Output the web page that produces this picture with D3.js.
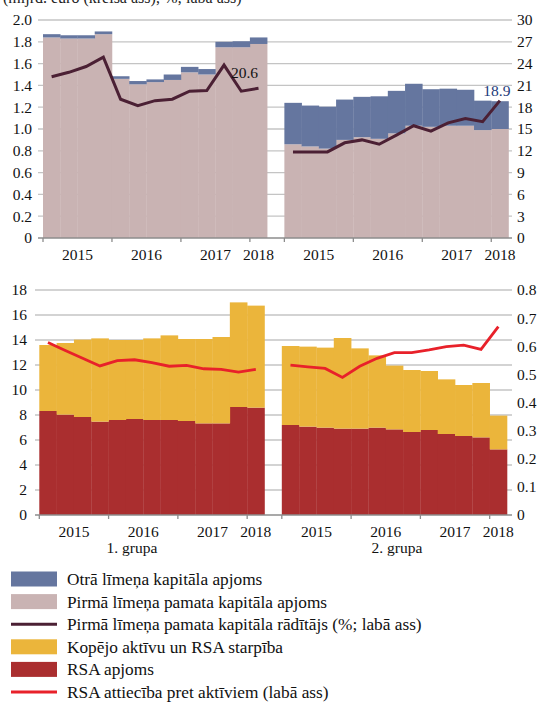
<!DOCTYPE html>
<html><head><meta charset="utf-8">
<script src="https://cdn.jsdelivr.net/npm/d3@7"></script>
<style>
html,body{margin:0;padding:0;background:#fff;}
svg{display:block;font-family:"Liberation Serif","Times New Roman",serif;}
</style></head>
<body><svg id="c" width="539" height="702"></svg>
<script>
// ---------- DATA ----------
const quarters = ["2015 Q1","2015 Q2","2015 Q3","2015 Q4","2016 Q1","2016 Q2","2016 Q3","2016 Q4","2017 Q1","2017 Q2","2017 Q3","2017 Q4","2018 Q1"];
const groups = ["1. grupa","2. grupa"];
const yearLabels = ["2015","2016","2017","2018"];
const topLeftTicks = [0,0.2,0.4,0.6,0.8,1.0,1.2,1.4,1.6,1.8,2.0];
const topRightTicks = [0,3,6,9,12,15,18,21,24,27,30];
const botLeftTicks = [0,2,4,6,8,10,12,14,16,18];
const botRightTicks = [0,0.1,0.2,0.3,0.4,0.5,0.6,0.7,0.8];

// Top: capital (bn euro) and CET1 ratio (%)
const tier1G1 = [1.84,1.83,1.83,1.87,1.46,1.41,1.43,1.45,1.52,1.50,1.75,1.75,1.78];
const tier2G1 = [0.03,0.03,0.03,0.025,0.024,0.03,0.025,0.05,0.05,0.05,0.05,0.055,0.06];
const cet1G1  = [22.2,22.8,23.6,24.9,19.1,18.2,18.9,19.1,20.2,20.3,23.8,20.2,20.6];
const tier1G2 = [0.86,0.84,0.82,0.90,0.925,0.91,0.96,1.03,1.02,1.03,1.03,0.99,1.0];
const tier2G2 = [0.38,0.375,0.385,0.37,0.37,0.39,0.39,0.385,0.345,0.34,0.33,0.27,0.255];
const cet1G2  = [11.85,11.85,11.85,13.1,13.5,12.9,14.15,15.45,14.7,15.85,16.45,16.0,18.9];

// Bottom: RWA, assets-RWA difference (bn euro), RWA/assets ratio
const rwaG1   = [8.32,8.03,7.84,7.47,7.6,7.68,7.6,7.6,7.52,7.33,7.33,8.64,8.59];
const diffG1  = [5.28,5.73,6.19,6.66,6.4,6.32,6.53,6.77,6.56,6.75,6.91,8.37,8.16];
const ratioG1 = [0.613,0.585,0.557,0.530,0.549,0.552,0.542,0.529,0.532,0.520,0.518,0.508,0.518];
const rwaG2   = [7.2,7.07,6.99,6.91,6.91,6.99,6.85,6.64,6.8,6.48,6.32,6.21,5.25];
const diffG2  = [6.32,6.4,6.4,7.25,6.42,5.78,5.1,4.96,4.72,4.37,4.08,4.35,2.7];
const ratioG2 = [0.533,0.527,0.521,0.489,0.529,0.557,0.577,0.577,0.587,0.599,0.604,0.589,0.670];

const legendItems = [
  {label:"Otrā līmeņa kapitāla apjoms", type:"rect", color:"#65769f"},
  {label:"Pirmā līmeņa pamata kapitāla apjoms", type:"rect", color:"#c9b3b3"},
  {label:"Pirmā līmeņa pamata kapitāla rādītājs (%; labā ass)", type:"line", color:"#4b2034"},
  {label:"Kopējo aktīvu un RSA starpība", type:"rect", color:"#ebb53b"},
  {label:"RSA apjoms", type:"rect", color:"#aa2e2f"},
  {label:"RSA attiecība pret aktīviem (labā ass)", type:"line", color:"#e8212a"}
];

// ---------- DRAW ----------
const svg = d3.select("#c");
const C = {blue:"#65769f", pink:"#c9b3b3", plum:"#4b2034", yellow:"#ebb53b", red:"#aa2e2f", redLine:"#e8212a", grid:"#c4c4c4", axis:"#8c8c8c"};
const nQ = quarters.length;             // 13
const nSlots = nQ*2 + 1;                // 27 slots: group1, gap, group2
const slots = d3.range(nSlots);
const slotOf = (g,i) => g===0 ? i : nQ+1+i;

svg.append("text").attr("x",3).attr("y",3).attr("font-size",16).attr("fill","#222")
  .text("(mljrd. euro (kreisā ass); %; labā ass)");

function panel(opt){
  const x = d3.scaleBand().domain(slots).range([opt.x0, opt.x1]).padding(0);
  const yL = d3.scaleLinear().domain(opt.yLdom).range([opt.yBot, opt.yTop]);
  const yR = d3.scaleLinear().domain(opt.yRdom).range([opt.yBot, opt.yTop]);
  const g = svg.append("g");
  g.selectAll("line.grid").data(opt.leftTicks.slice(1)).join("line")
    .attr("x1",opt.gx0).attr("x2",opt.gx1)
    .attr("y1",d=>yL(d)).attr("y2",d=>yL(d))
    .attr("stroke",C.grid).attr("stroke-width",1.3);
  opt.series.forEach((grp,gi)=>{
    grp.forEach((s,si)=>{
      const base = grp.slice(0,si);
      g.selectAll(null).data(s.values).join("rect")
        .attr("x",(d,i)=>x(slotOf(gi,i)))
        .attr("width",x.bandwidth()+0.3)
        .attr("y",(d,i)=>yL(d3.sum(base,b=>b.values[i])+d))
        .attr("height",(d,i)=>yL(d3.sum(base,b=>b.values[i])) - yL(d3.sum(base,b=>b.values[i])+d))
        .attr("fill",s.color);
    });
  });
  opt.lines.forEach((vals,gi)=>{
    const line = d3.line().x((d,i)=>x(slotOf(gi,i))+x.bandwidth()/2).y(d=>yR(d));
    g.append("path").attr("d",line(vals)).attr("fill","none")
      .attr("stroke",opt.lineColor).attr("stroke-width",opt.lineWidth).attr("stroke-linejoin","miter");
  });
  g.append("line").attr("x1",opt.gx0).attr("x2",opt.gx1).attr("y1",opt.yBot).attr("y2",opt.yBot)
    .attr("stroke",opt.axisColor).attr("stroke-width",1.3);
  const tickSlots = [0,4,8,12,nQ+1,nQ+5,nQ+9,nQ+13];
  g.selectAll(null).data(tickSlots).join("line")
    .attr("x1",d=>x(d)).attr("x2",d=>x(d)).attr("y1",opt.yBot).attr("y2",opt.yBot+4)
    .attr("stroke",opt.axisColor).attr("stroke-width",1.3);
  const yearPos = [2,6,10,12.5];
  [0,1].forEach(gi=>{
    yearLabels.forEach((lab,k)=>{
      const s = (gi===0?0:nQ+1) + yearPos[k];
      g.append("text").attr("x", opt.x0 + s*x.step()).attr("y",opt.yBot+22)
        .attr("text-anchor","middle").attr("font-size",15.5).attr("fill","#111").text(lab);
    });
  });
  const axL = d3.axisLeft(yL).tickValues(opt.leftTicks).tickSize(0).tickPadding(0).tickFormat(opt.leftFmt);
  const gl = g.append("g").attr("transform",`translate(${opt.lx},0)`).call(axL);
  gl.select(".domain").remove();
  gl.selectAll("text").attr("font-size",15.5).attr("font-family","Liberation Serif, serif").attr("fill","#111");
  const axR = d3.axisRight(yR).tickValues(opt.rightTicks).tickSize(0).tickPadding(0).tickFormat(opt.rightFmt);
  const gr = g.append("g").attr("transform",`translate(${opt.rx},0)`).call(axR);
  gr.select(".domain").remove();
  gr.selectAll("text").attr("font-size",15.5).attr("font-family","Liberation Serif, serif").attr("fill","#111");
  return {x,yL,yR,g};
}

const topP = panel({
  x0:43, x1:508.5, gx0:38, gx1:512, yTop:20, yBot:238,
  yLdom:[0,2], yRdom:[0,30], leftTicks:topLeftTicks, rightTicks:topRightTicks,
  leftFmt:d=> d===0?"0":d3.format(".1f")(d), rightFmt:d3.format("d"),
  lx:32, rx:517, axisColor:C.axis,
  series:[[{values:tier1G1,color:C.pink},{values:tier2G1,color:C.blue}],
          [{values:tier1G2,color:C.pink},{values:tier2G2,color:C.blue}]],
  lines:[cet1G1,cet1G2], lineColor:C.plum, lineWidth:3
});
topP.g.append("text").attr("x",topP.x(slotOf(0,nQ-1))+topP.x.bandwidth()/2-14).attr("y",topP.yR(cet1G1[nQ-1])-10)
  .attr("text-anchor","middle").attr("font-size",15.5).attr("fill","#111").text(cet1G1[nQ-1].toFixed(1));
topP.g.append("text").attr("x",topP.x(slotOf(1,nQ-1))+topP.x.bandwidth()/2-3).attr("y",topP.yR(cet1G2[nQ-1])-5)
  .attr("text-anchor","middle").attr("font-size",15.5).attr("fill","#1c3a7a").text(cet1G2[nQ-1].toFixed(1));

const botP = panel({
  x0:39.3, x1:507, gx0:35, gx1:512, yTop:290, yBot:515,
  yLdom:[0,18], yRdom:[0,0.8], leftTicks:botLeftTicks, rightTicks:botRightTicks,
  leftFmt:d3.format("d"), rightFmt:d=> d===0?"0":d3.format(".1f")(d),
  lx:27, rx:517, axisColor:C.axis,
  series:[[{values:rwaG1,color:C.red},{values:diffG1,color:C.yellow}],
          [{values:rwaG2,color:C.red},{values:diffG2,color:C.yellow}]],
  lines:[ratioG1,ratioG2], lineColor:C.redLine, lineWidth:2.8
});
groups.forEach((gname,gi)=>{
  const cx = gi===0 ? 132 : 397;
  botP.g.append("text").attr("x",cx).attr("y",553).attr("text-anchor","middle")
    .attr("font-size",15.5).attr("fill","#111").text(gname);
});

const lg = svg.append("g");
legendItems.forEach((it,k)=>{
  const cy = 579 + k*22.6;
  if(it.type==="rect"){
    lg.append("rect").attr("x",11).attr("y",cy-7.5).attr("width",46).attr("height",15).attr("fill",it.color);
  } else {
    lg.append("line").attr("x1",11).attr("x2",57).attr("y1",cy).attr("y2",cy)
      .attr("stroke",it.color).attr("stroke-width",3);
  }
  lg.append("text").attr("x",67).attr("y",cy+6).attr("font-size",17.3).attr("fill","#111").text(it.label);
});
</script></body></html>
